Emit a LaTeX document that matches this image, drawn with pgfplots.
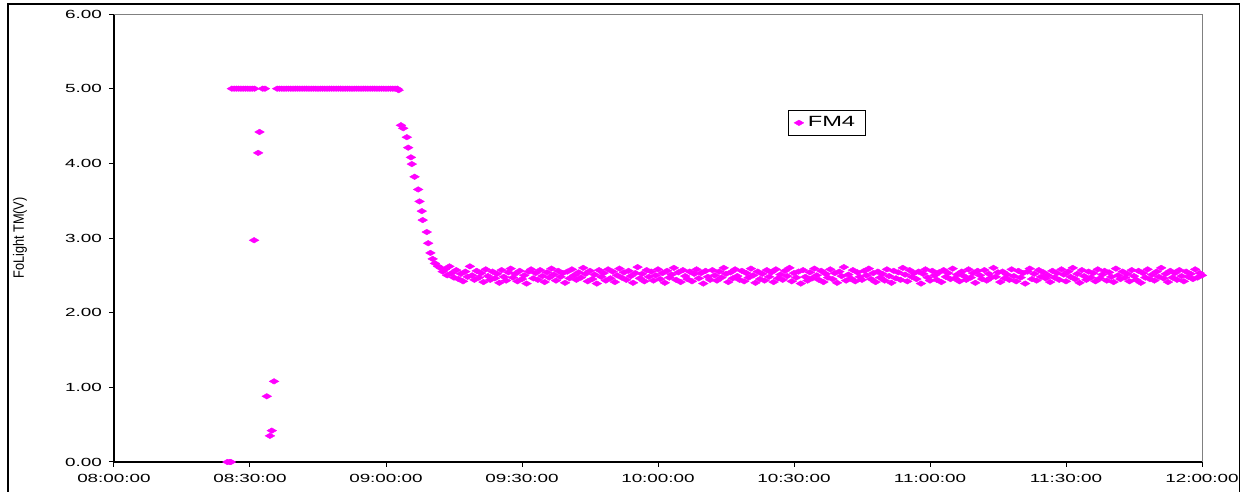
\documentclass[border=0pt]{standalone}
\usepackage{fontspec}
\setmainfont{Liberation Sans}[FakeStretch=1.6]
\newfontfamily\labfont{Liberation Sans}[FakeStretch=0.85]
\usepackage{pgfplots}
\pgfplotsset{compat=1.18}
\definecolor{fm}{RGB}{255,0,255}
\begin{document}
\begin{tikzpicture}
\useasboundingbox (0,0) rectangle (622pt,246pt);
\clip (0,0) rectangle (622pt,246pt);
\draw[line width=0.7pt] (4pt,-10pt) rectangle (619.75pt,244pt);
\begin{axis}[
  at={(57pt,15pt)}, anchor=south west,
  scale only axis, width=544pt, height=224pt,
  xmin=0, xmax=240, ymin=0, ymax=6,
  axis x line*=bottom, axis y line*=left,
  axis line style={-, line width=0.6pt, black},
  xtick={0,30,60,90,120,150,180,210,240},
  xticklabels={08:00:00,08:30:00,09:00:00,09:30:00,10:00:00,10:30:00,11:00:00,11:30:00,12:00:00},
  ytick={0,1,2,3,4,5,6},
  tick align=outside, major tick length=2.5pt,
  tick style={black, line width=0.5pt},
  tick label style={font=\fontsize{5.9}{7}\selectfont},
  yticklabel style={/pgf/number format/.cd, fixed, fixed zerofill, precision=2, assume math mode=true},
  xticklabel shift=0pt, yticklabel shift=0pt,
  ylabel={\labfont\fontsize{7.5}{8}\selectfont FoLight TM(V)},
  ylabel style={at={(axis description cs:-0.0864,0.5)}, anchor=center},
  clip=false,
  legend style={at={(axis description cs:0.655,0.757)}, anchor=center, draw=black, line width=0.5pt,
    font=\fontsize{7.4}{8}\selectfont, inner xsep=3pt, inner ysep=0.8pt},
]
\draw[gray, line width=0.5pt] (rel axis cs:0,1) -- (rel axis cs:1,1) -- (rel axis cs:1,0);
\addplot[only marks, mark=diamond*, mark size=1.4pt, mark options={xscale=2.3, fill=fm, draw=fm, line width=0.2pt}]
coordinates {
(25,0)(25.5,0)(25.8,0)
(26,5)(26.5,5)(27,5)(27.5,5)(28,5)(28.5,5)(29,5)(29.5,5)(30,5)(30.5,5)(31,5)
(30.9,2.97)(31.8,4.14)(32.1,4.42)
(32.8,5)(33.3,5)
(33.7,0.88)(34.4,0.35)(34.8,0.42)(35.3,1.08)
(36,5)(36.5,5)(37,5)(37.5,5)(38,5)(38.5,5)(39,5)(39.5,5)(40,5)(40.5,5)
(41,5)(41.5,5)(42,5)(42.5,5)(43,5)(43.5,5)(44,5)(44.5,5)(45,5)(45.5,5)
(46,5)(46.5,5)(47,5)(47.5,5)(48,5)(48.5,5)(49,5)(49.5,5)(50,5)(50.5,5)
(51,5)(51.5,5)(52,5)(52.5,5)(53,5)(53.5,5)(54,5)(54.5,5)(55,5)(55.5,5)
(56,5)(56.5,5)(57,5)(57.5,5)(58,5)(58.5,5)(59,5)(59.5,5)(60,5)(60.5,5)
(61,5)(61.5,5)(62,5)(62.5,5)(62.8,4.98)
(63.3,4.51)(63.8,4.47)(64.6,4.35)(64.9,4.21)(65.5,4.08)(65.7,3.99)(66.3,3.82)(67.1,3.65)(67.4,3.49)(67.9,3.36)
(68.1,3.24)(69.0,3.08)(69.3,2.93)(69.8,2.80)(70.3,2.72)(70.8,2.66)(71.5,2.62)
(72,2.60)(72.5,2.55)(73,2.58)(73.5,2.50)(74,2.62)(74.5,2.53)(75,2.47)(75.5,2.57)(76,2.45)(76.5,2.52)
(77,2.42)(77.5,2.55)(78,2.48)(78.5,2.62)(79,2.50)(79.5,2.44)(80,2.56)(80.5,2.47)(81,2.53)(81.5,2.41)
(82,2.58)(82.5,2.49)(83,2.44)(83.5,2.55)(84,2.46)(84.5,2.52)(85,2.40)(85.5,2.57)(86,2.48)(86.5,2.43)
(87,2.54)(87.5,2.59)(88,2.47)(88.5,2.52)(89,2.42)(89.5,2.56)(90,2.45)(90.5,2.50)(91,2.39)(91.5,2.55)
(92,2.58)(92.5,2.46)(93,2.53)(93.5,2.44)(94,2.57)(94.5,2.49)(95,2.41)(95.5,2.54)(96,2.47)(96.5,2.59)
(97,2.51)(97.5,2.43)(98,2.56)(98.5,2.48)(99,2.53)(99.5,2.40)(100,2.55)(100.5,2.46)(101,2.58)(101.5,2.50)
(102,2.44)(102.5,2.54)(103,2.47)(103.5,2.60)(104,2.52)(104.5,2.42)(105,2.56)(105.5,2.45)(106,2.51)(106.5,2.39)
(107,2.57)(107.5,2.48)(108,2.53)(108.5,2.43)(109,2.58)(109.5,2.46)(110,2.55)(110.5,2.41)(111,2.50)(111.5,2.59)
(112,2.47)(112.5,2.54)(113,2.44)(113.5,2.56)(114,2.49)(114.5,2.40)(115,2.53)(115.5,2.61)(116,2.46)(116.5,2.52)
(117,2.42)(117.5,2.57)(118,2.48)(118.5,2.55)(119,2.43)(119.5,2.50)(120,2.58)(120.5,2.45)(121,2.53)(121.5,2.40)
(122,2.56)(122.5,2.47)(123,2.51)(123.5,2.60)(124,2.44)(124.5,2.54)(125,2.41)(125.5,2.57)(126,2.49)(126.5,2.45)
(127,2.55)(127.5,2.42)(128,2.52)(128.5,2.58)(129,2.46)(129.5,2.53)(130,2.39)(130.5,2.56)(131,2.48)(131.5,2.44)
(132,2.57)(132.5,2.50)(133,2.43)(133.5,2.55)(134,2.47)(134.5,2.60)(135,2.52)(135.5,2.41)(136,2.54)(136.5,2.46)
(137,2.58)(137.5,2.49)(138,2.44)(138.5,2.56)(139,2.42)(139.5,2.53)(140,2.47)(140.5,2.59)(141,2.50)(141.5,2.40)
(142,2.55)(142.5,2.45)(143,2.52)(143.5,2.43)(144,2.57)(144.5,2.48)(145,2.54)(145.5,2.41)(146,2.58)(146.5,2.46)
(147,2.51)(147.5,2.44)(148,2.56)(148.5,2.49)(149,2.60)(149.5,2.42)(150,2.53)(150.5,2.47)(151,2.55)(151.5,2.39)
(152,2.57)(152.5,2.48)(153,2.43)(153.5,2.54)(154,2.46)(154.5,2.59)(155,2.50)(155.5,2.44)(156,2.56)(156.5,2.41)
(157,2.52)(157.5,2.47)(158,2.58)(158.5,2.45)(159,2.53)(159.5,2.40)(160,2.55)(160.5,2.49)(161,2.61)(161.5,2.43)
(162,2.51)(162.5,2.46)(163,2.57)(163.5,2.42)(164,2.54)(164.5,2.48)(165,2.44)(165.5,2.56)(166,2.50)(166.5,2.59)
(167,2.45)(167.5,2.53)(168,2.41)(168.5,2.55)(169,2.47)(169.5,2.52)(170,2.43)(170.5,2.58)(171,2.49)(171.5,2.40)
(172,2.56)(172.5,2.46)(173,2.54)(173.5,2.44)(174,2.60)(174.5,2.51)(175,2.42)(175.5,2.57)(176,2.48)(176.5,2.53)
(177,2.45)(177.5,2.55)(178,2.39)(178.5,2.52)(179,2.58)(179.5,2.47)(180,2.43)(180.5,2.56)(181,2.50)(181.5,2.44)
(182,2.54)(182.5,2.41)(183,2.57)(183.5,2.48)(184,2.53)(184.5,2.45)(185,2.59)(185.5,2.46)(186,2.51)(186.5,2.42)
(187,2.55)(187.5,2.49)(188,2.44)(188.5,2.58)(189,2.47)(189.5,2.53)(190,2.40)(190.5,2.56)(191,2.50)(191.5,2.45)
(192,2.57)(192.5,2.43)(193,2.52)(193.5,2.47)(194,2.60)(194.5,2.48)(195,2.54)(195.5,2.41)(196,2.55)(196.5,2.46)
(197,2.51)(197.5,2.44)(198,2.58)(198.5,2.49)(199,2.42)(199.5,2.56)(200,2.47)(200.5,2.53)(201,2.39)(201.5,2.55)
(202,2.59)(202.5,2.45)(203,2.52)(203.5,2.43)(204,2.57)(204.5,2.48)(205,2.54)(205.5,2.46)(206,2.50)(206.5,2.41)
(207,2.56)(207.5,2.47)(208,2.53)(208.5,2.44)(209,2.58)(209.5,2.51)(210,2.42)(210.5,2.55)(211,2.48)(211.5,2.60)
(212,2.45)(212.5,2.52)(213,2.40)(213.5,2.57)(214,2.49)(214.5,2.44)(215,2.55)(215.5,2.47)(216,2.53)(216.5,2.42)
(217,2.58)(217.5,2.46)(218,2.51)(218.5,2.56)(219,2.43)(219.5,2.54)(220,2.48)(220.5,2.41)(221,2.59)(221.5,2.50)
(222,2.45)(222.5,2.55)(223,2.47)(223.5,2.52)(224,2.42)(224.5,2.57)(225,2.49)(225.5,2.44)(226,2.56)(226.5,2.40)
(227,2.53)(227.5,2.47)(228,2.58)(228.5,2.45)(229,2.51)(229.5,2.43)(230,2.55)(230.5,2.48)(231,2.60)(231.5,2.46)
(232,2.52)(232.5,2.41)(233,2.56)(233.5,2.47)(234,2.53)(234.5,2.44)(235,2.57)(235.5,2.49)(236,2.42)(236.5,2.55)
(237,2.48)(237.5,2.52)(238,2.45)(238.5,2.58)(239,2.47)(239.5,2.53)(240,2.50)
};
\addlegendentry{FM4}
\end{axis}
\end{tikzpicture}
\end{document}
